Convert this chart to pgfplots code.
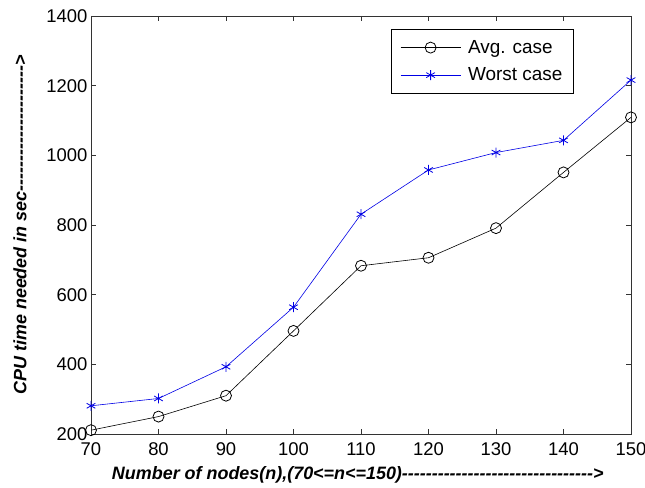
\documentclass[border=0pt]{standalone}
\usepackage{pgfplots}
\pgfplotsset{compat=1.18}
\usepackage{fontspec}
\setmainfont{Liberation Sans}[Ligatures=TeXOff]
\begin{document}
\begin{tikzpicture}
\begin{axis}[
  scale only axis,
  width=540bp, height=418bp,
  xmin=70, xmax=150, ymin=200, ymax=1400,
  xtick={70,80,...,150},
  ytick={200,400,...,1400},
  tick align=inside,
  major tick length=5bp,
  axis line style={line width=0.8pt, black!80},
  tick style={black!80, line width=0.6pt},
  /pgf/number format/assume math mode=true,
  /pgf/number format/1000 sep={},
  tick label style={font=\fontsize{18.5}{20}\selectfont, text=black},
  xticklabel style={yshift=-5bp},
  xlabel={\bfseries\itshape Number of nodes(n),(70<=n<=150)-------------------------------->},
  ylabel={\bfseries\itshape CPU time needed in sec--------------------->},
  label style={font=\fontsize{18}{20}\selectfont},
  xlabel style={at={(axis description cs:0.494,-0.098)}, anchor=center},
  ylabel style={at={(axis description cs:-0.1315,0.5)}, anchor=center},
  legend style={at={(0.894,0.969)}, anchor=north east, draw=black, line width=0.8pt,
    font=\fontsize{19}{21}\selectfont, inner xsep=9bp, inner ysep=9bp, row sep=9bp},
  legend cell align=left,
  legend image code/.code={\draw[mark repeat=2,mark phase=2] plot coordinates {(0cm,0cm) (1.06cm,0cm) (2.12cm,0cm)}; \path (2.3cm,0cm);},
]
\addplot[black, line width=0.6pt, mark=o, mark size=5.5bp, mark options={line width=0.8pt}] coordinates {
(70,211) (80,250) (90,310) (100,496) (110,683) (120,706) (130,791) (140,951) (150,1109)};
\addlegendentry{Avg. case}
\addplot[blue!90!black, line width=0.6pt, mark=asterisk, mark size=5bp, mark options={line width=0.8pt}] coordinates {
(70,281) (80,302) (90,393) (100,564) (110,831) (120,958) (130,1008) (140,1043) (150,1216)};
\addlegendentry{Worst case}
\coordinate (bbsw) at (rel axis cs:0,0);
\coordinate (bbne) at (rel axis cs:1,1);
\end{axis}
\pgfresetboundingbox
\useasboundingbox ([xshift=-91bp,yshift=-53bp]bbsw) rectangle ([xshift=14bp,yshift=16bp]bbne);
\end{tikzpicture}
\end{document}
